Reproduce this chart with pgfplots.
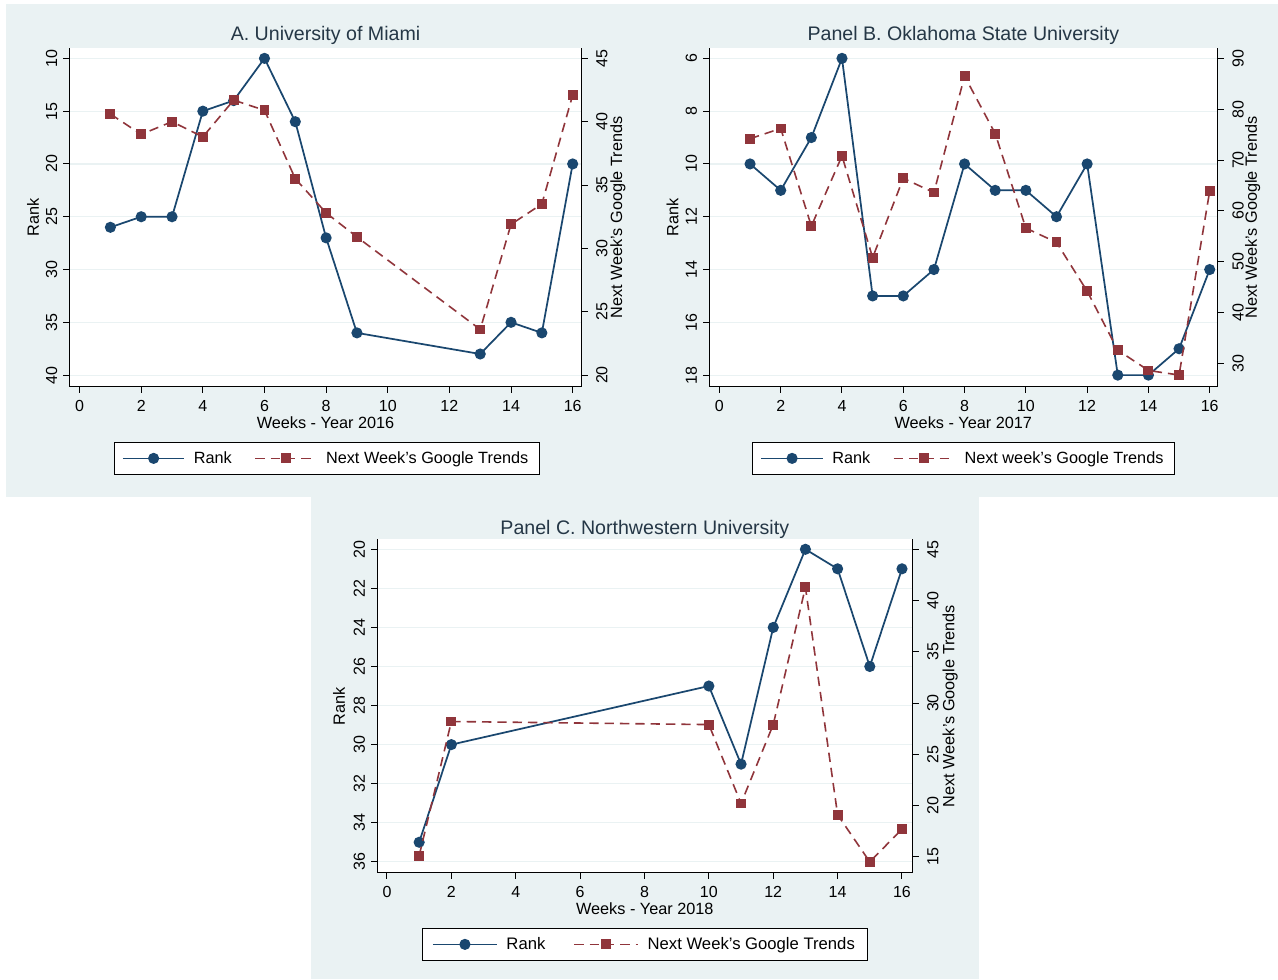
\documentclass[border=0pt]{standalone}
\usepackage{fontspec}
\setmainfont{Liberation Sans}
\usepackage{pgfplots}
\pgfplotsset{compat=1.18}
\definecolor{bg}{RGB}{234,242,243}
\definecolor{stnavy}{RGB}{26,71,111}
\definecolor{stmaroon}{RGB}{144,53,59}
\definecolor{titlec}{RGB}{37,55,70}
\pgfplotsset{
  rankstyle/.style={color=stnavy, line width=1.3pt, solid, mark=*, mark size=3.5pt, mark options={solid, fill=stnavy}},
  trendstyle/.style={color=stmaroon, line width=1.2pt, dash pattern=on 7pt off 4.5pt, mark=square*, mark size=3.1pt, mark options={solid, fill=stmaroon}},
  common/.style={
    scale only axis,
    xmin=-0.33, xmax=16.29,
    /pgf/number format/assume math mode=true,
    tick label style={font=\fontsize{12}{14}\selectfont, black},
    label style={font=\fontsize{12.2}{14}\selectfont, black},
    tick align=outside,
    major tick length=4.5pt,
    tick style={black, line width=0.75pt},
    axis line style={black, line width=0.75pt},
    legend image code/.code={\draw[mark repeat=2,mark phase=2,##1] plot coordinates {(0pt,0pt) (23pt,0pt) (46pt,0pt)};},
  },
  leftax/.style={
    common,
    axis y line*=left, axis x line*=bottom,
    y dir=reverse,
    axis background/.style={fill=white},
    ymajorgrids, grid style={color=bg, line width=0.9pt},
    xtick={0,2,...,16},
    xticklabel shift=2pt,
    yticklabel style={rotate=90, anchor=south},
    yticklabel shift=1pt,
    title style={font=\fontsize{14.7}{17}\selectfont, color=titlec, anchor=center, yshift=-6pt},
    ylabel={Rank},
  },
  rightax/.style={
    common,
    axis y line*=right, axis x line=none,
    yticklabel style={rotate=90, anchor=north},
    yticklabel shift=3pt,
    ylabel={Next Week's Google Trends},
    legend style={anchor=north, legend columns=2, draw=black, fill=white,
      font=\fontsize{12.2}{14}\selectfont, inner xsep=6pt, inner ysep=5pt,
      /tikz/every odd column/.append style={column sep=4.5pt},
      /tikz/every even column/.append style={column sep=15pt}},
    legend cell align=left,
  },
}
\begin{document}
\begin{tikzpicture}
\path[use as bounding box, fill=white] (0pt,0pt) rectangle (958.5pt,734.25pt);
\fill[bg] (4.5pt,361.5pt) rectangle (958.5pt,731.25pt);
\fill[bg] (233.25pt,0pt) rectangle (734.25pt,361.5pt);

% Panel A
\begin{axis}[leftax, at={(52.05pt,444.2pt)}, anchor=south west, width=384.15pt, height=253.8pt,
  ymin=9.05, ymax=41.1, ytick={10,15,...,40},
  title={A. University of Miami}, title style={at={(axis description cs:0.5,1.037)}},
  xlabel={Weeks - Year 2016}, xlabel style={at={(axis description cs:0.5,-0.106)}, anchor=center},
  ylabel style={at={(axis description cs:-0.071,0.5)}, anchor=center}]
\addplot[rankstyle] coordinates {(1,26)(2,25)(3,25)(4,15)(5,14)(6,10)(7,16)(8,27)(9,36)(13,38)(14,35)(15,36)(16,20)};
\end{axis}
\begin{axis}[rightax, at={(52.05pt,444.2pt)}, anchor=south west, width=384.15pt, height=253.8pt,
  ymin=19.08, ymax=45.79, ytick={20,25,...,45},
  ylabel style={at={(axis description cs:1.071,0.5)}, anchor=center},
  legend style={at={(0.502,-0.163)}}]
\addlegendimage{rankstyle}
\addlegendentry{Rank}
\addplot[trendstyle] coordinates {(1,40.6)(2,39.0)(3,40.0)(4,38.8)(5,41.7)(6,40.9)(7,35.5)(8,32.8)(9,30.9)(13,23.6)(14,31.9)(15,33.5)(16,42.1)};
\addlegendentry{Next Week's Google Trends}
\end{axis}

% Panel B
\begin{axis}[leftax, at={(531.75pt,444.2pt)}, anchor=south west, width=381.5pt, height=253.8pt,
  xmin=-0.34, xmax=16.26,
  ymin=5.62, ymax=18.44, ytick={6,8,...,18},
  title={Panel B. Oklahoma State University}, title style={at={(axis description cs:0.5,1.037)}},
  xlabel={Weeks - Year 2017}, xlabel style={at={(axis description cs:0.5,-0.106)}, anchor=center},
  ylabel style={at={(axis description cs:-0.0718,0.5)}, anchor=center}]
\addplot[rankstyle] coordinates {(1,10)(2,11)(3,9)(4,6)(5,15)(6,15)(7,14)(8,10)(9,11)(10,11)(11,12)(12,10)(13,18)(14,18)(15,17)(16,14)};
\end{axis}
\begin{axis}[rightax, at={(531.75pt,444.2pt)}, anchor=south west, width=381.5pt, height=253.8pt,
  xmin=-0.34, xmax=16.26,
  ymin=25.4, ymax=91.97, ytick={30,40,...,90},
  ylabel style={at={(axis description cs:1.069,0.5)}, anchor=center},
  legend style={at={(0.5,-0.163)}}]
\addlegendimage{rankstyle}
\addlegendentry{Rank}
\addplot[trendstyle] coordinates {(1,74.2)(2,76.2)(3,57.0)(4,70.8)(5,50.8)(6,66.4)(7,63.6)(8,86.5)(9,75.2)(10,56.6)(11,53.8)(12,44.2)(13,32.6)(14,28.6)(15,27.7)(16,63.9)};
\addlegendentry{Next week's Google Trends}
\end{axis}

% Panel C
\begin{axis}[leftax, at={(282.75pt,79.7pt)}, anchor=south west, width=401.7pt, height=250.05pt,
  xmin=-0.31, xmax=16.33,
  ymin=19.49, ymax=36.56, ytick={20,22,...,36},
  title={Panel C. Northwestern University}, title style={at={(axis description cs:0.5,1.031)}},
  xlabel={Weeks - Year 2018}, xlabel style={at={(axis description cs:0.5,-0.109)}, anchor=center},
  ylabel style={at={(axis description cs:-0.071,0.5)}, anchor=center}]
\addplot[rankstyle] coordinates {(1,35)(2,30)(10,27)(11,31)(12,24)(13,20)(14,21)(15,26)(16,21)};
\end{axis}
\begin{axis}[rightax, at={(282.75pt,79.7pt)}, anchor=south west, width=401.7pt, height=250.05pt,
  xmin=-0.31, xmax=16.33,
  ymin=13.44, ymax=45.98, ytick={15,20,...,45},
  ylabel style={at={(axis description cs:1.07,0.5)}, anchor=center},
  legend image code/.code={\draw[mark repeat=2,mark phase=2,#1] plot coordinates {(0pt,0pt) (24pt,0pt) (48pt,0pt)};},
  legend style={at={(0.5,-0.165)}, font=\fontsize{12.5}{14}\selectfont, inner xsep=7pt,
    /tikz/every even column/.append style={column sep=19pt}}]
\addlegendimage{rankstyle}
\addlegendentry{Rank}
\addplot[trendstyle] coordinates {(1,15.1)(2,28.2)(10,27.9)(11,20.2)(12,27.9)(13,41.3)(14,19.1)(15,14.5)(16,17.7)};
\addlegendentry{Next Week's Google Trends}
\end{axis}
\end{tikzpicture}
\end{document}
